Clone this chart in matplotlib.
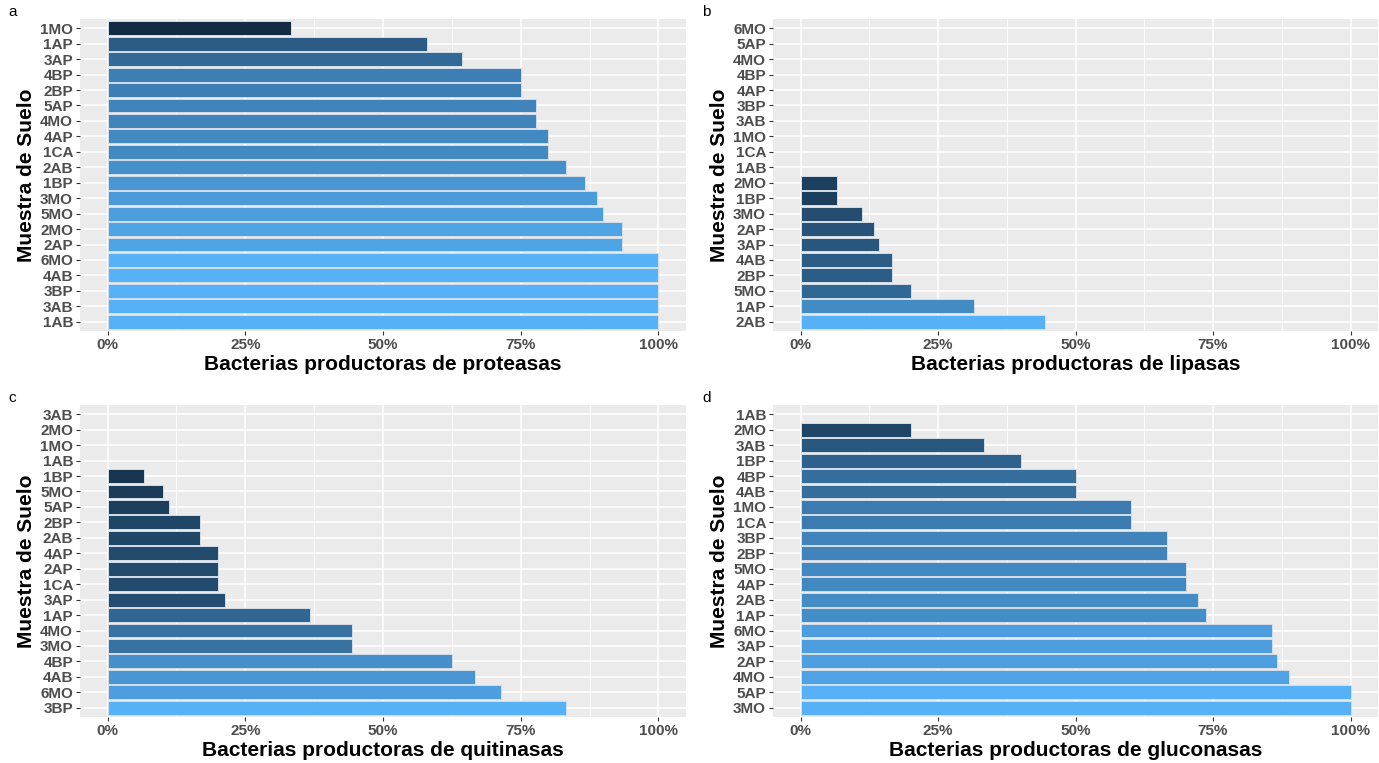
import matplotlib
matplotlib.use('Agg')
import matplotlib.pyplot as plt
from matplotlib.colors import LinearSegmentedColormap, Normalize
from matplotlib.ticker import FixedLocator, PercentFormatter

# samples listed top to bottom as drawn, values in percent
prot_samples = ['1MO', '1AP', '3AP', '4BP', '2BP', '5AP', '4MO', '4AP', '1CA', '2AB',
                '1BP', '3MO', '5MO', '2MO', '2AP', '6MO', '4AB', '3BP', '3AB', '1AB']
prot_values = [33.3, 57.9, 64.3, 75.0, 75.0, 77.8, 77.8, 80.0, 80.0, 83.3,
               86.7, 88.9, 90.0, 93.3, 93.3, 100, 100, 100, 100, 100]

lip_samples = ['6MO', '5AP', '4MO', '4BP', '4AP', '3BP', '3AB', '1MO', '1CA', '1AB',
               '2MO', '1BP', '3MO', '2AP', '3AP', '4AB', '2BP', '5MO', '1AP', '2AB']
lip_values = [0, 0, 0, 0, 0, 0, 0, 0, 0, 0,
              6.7, 6.7, 11.1, 13.3, 14.3, 16.7, 16.7, 20.0, 31.6, 44.4]

quit_samples = ['3AB', '2MO', '1MO', '1AB', '1BP', '5MO', '5AP', '2BP', '2AB', '4AP',
                '2AP', '1CA', '3AP', '1AP', '4MO', '3MO', '4BP', '4AB', '6MO', '3BP']
quit_values = [0, 0, 0, 0, 6.7, 10.0, 11.1, 16.7, 16.7, 20.0,
               20.0, 20.0, 21.4, 36.8, 44.4, 44.4, 62.5, 66.7, 71.4, 83.3]

gluc_samples = ['1AB', '2MO', '3AB', '1BP', '4BP', '4AB', '1MO', '1CA', '3BP', '2BP',
                '5MO', '4AP', '2AB', '1AP', '6MO', '3AP', '2AP', '4MO', '5AP', '3MO']
gluc_values = [0, 20.0, 33.3, 40.0, 50.0, 50.0, 60.0, 60.0, 66.7, 66.7,
               70.0, 70.0, 72.2, 73.7, 85.7, 85.7, 86.7, 88.9, 100, 100]

W, H = 1379, 763
cmap = LinearSegmentedColormap.from_list('gg', ['#132B43', '#56B1F7'])

plt.rcParams['font.family'] = ['Liberation Sans', 'DejaVu Sans']

fig = plt.figure(figsize=(W / 100, H / 100), dpi=100)


def panel(left, right, top, bottom, samples, values, xlabel, letter, lx, ly):
    ax = fig.add_axes([left / W, 1 - bottom / H, (right - left) / W, (bottom - top) / H])
    ax.set_facecolor('#EBEBEB')
    n = len(samples)
    ypos = list(range(n))[::-1]
    norm = Normalize(min(values), max(values))
    colors = [cmap(norm(v)) for v in values]
    # zero-length bars get no outline, as in the original
    edges = ['#D4DEE9' if v > 0 else 'none' for v in values]
    ax.barh(ypos, values, height=0.9, color=colors, edgecolor=edges,
            linewidth=0.7, zorder=3)
    ax.set_xlim(-5, 105)
    ax.set_ylim(-0.6, n - 0.4)
    ax.set_yticks(ypos)
    ax.set_yticklabels(samples)
    ax.xaxis.set_major_locator(FixedLocator([0, 25, 50, 75, 100]))
    ax.xaxis.set_minor_locator(FixedLocator([12.5, 37.5, 62.5, 87.5]))
    ax.xaxis.set_major_formatter(PercentFormatter(decimals=0))
    ax.grid(which='major', color='white', linewidth=1.1, zorder=0)
    ax.grid(which='minor', axis='x', color='white', linewidth=0.55, zorder=0)
    ax.set_axisbelow(True)
    for s in ax.spines.values():
        s.set_visible(False)
    ax.tick_params(axis='both', which='major', length=3, color='#333333',
                   labelsize=11, labelcolor='#4D4D4D', pad=2)
    ax.tick_params(axis='x', which='minor', length=0)
    for t in ax.get_xticklabels() + ax.get_yticklabels():
        t.set_fontweight('bold')
    ax.set_xlabel(xlabel, fontsize=15, fontweight='bold', labelpad=2)
    ax.set_ylabel('Muestra de Suelo', fontsize=15, fontweight='bold', labelpad=3)
    fig.text(lx / W, 1 - ly / H, letter, fontsize=11, ha='left', va='center')
    return ax


panel(80, 686, 19, 331, prot_samples, prot_values,
      'Bacterias productoras de proteasas', 'a', 8, 12)
panel(773, 1378, 19, 331, lip_samples, lip_values,
      'Bacterias productoras de lipasas', 'b', 702, 12)
panel(80, 686, 405, 717, quit_samples, quit_values,
      'Bacterias productoras de quitinasas', 'c', 8, 398)
panel(773, 1378, 405, 717, gluc_samples, gluc_values,
      'Bacterias productoras de gluconasas', 'd', 702, 398)

fig.savefig('out.png', dpi=100)
